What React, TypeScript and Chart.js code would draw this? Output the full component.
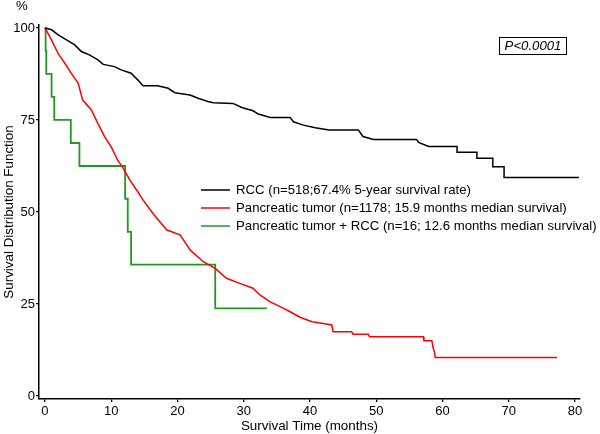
import React, { useEffect, useRef } from "react";
import { Chart, registerables } from "chart.js";

Chart.register(...registerables);

const xTicks = [0, 10, 20, 30, 40, 50, 60, 70, 80];
const yTicks = [0, 25, 50, 75, 100];

const rccTime = [0, 1, 2, 3.5, 4.5, 5.5, 6.7, 8, 8.8, 10.5, 11.5, 13, 14, 14.8, 17, 18.6, 19.6, 21.9, 23.1, 24.6, 25.4, 28.4, 29.7, 31.4, 32.2, 34, 37, 37.5, 39, 40.8, 42.9, 47.3, 48, 49.6, 56.1, 56.4, 57.9, 62.2, 62.2, 65.2, 65.2, 67.6, 67.6, 69.3, 69.3, 80.6];
const rccSurv = [100, 99.5, 98.1, 96.5, 95.4, 93.6, 92.7, 91.3, 90.1, 89.5, 88.6, 87.7, 85.9, 84.3, 84.3, 83.6, 82.4, 81.8, 80.9, 80, 79.7, 79.5, 78.4, 77.5, 76.6, 75.7, 75.7, 74.5, 73.6, 72.9, 72.3, 72.3, 70.5, 69.7, 69.7, 68.9, 67.8, 67.8, 66.2, 66.2, 64.6, 64.6, 62.3, 62.3, 59.4, 59.4];

const panTime = [0, 1, 2, 3, 4, 5, 5.7, 7, 8, 9, 10, 11, 11.8, 12.8, 14, 14.8, 16.3, 18.4, 20.4, 21.9, 23.9, 25.7, 27.4, 29.4, 31.4, 32.5, 34, 35.5, 37, 38.5, 40.3, 42, 43.3, 43.5, 46.3, 46.5, 48.8, 49, 57.1, 57.2, 58.4, 58.6, 58.8, 58.9, 77.3];
const panSurv = [100, 96.7, 93, 90.4, 87.6, 85, 80.4, 77.7, 74, 70.5, 67.7, 64, 61.9, 58.7, 55.5, 53.3, 49.6, 45.1, 43.8, 39.7, 36.5, 34.7, 32, 30.6, 29.3, 27.4, 25.6, 24.3, 22.9, 21.4, 20.2, 19.7, 19.3, 17.5, 17.5, 16.8, 16.8, 16.1, 16.1, 15, 15, 13, 12, 10.5, 10.5];

const bothTime = [0, 0.1, 0.2, 1.0, 1.4, 3.9, 5.2, 12.1, 12.5, 13.0, 25.7, 33.5];
const bothSurv = [100, 93.75, 87.5, 81.25, 75, 68.75, 62.5, 53.6, 44.6, 35.7, 23.8, 23.8];

const seriesLabels = [
  "RCC (n=518;67.4% 5-year survival rate)",
  "Pancreatic tumor (n=1178; 15.9 months median survival)",
  "Pancreatic tumor + RCC (n=16; 12.6 months median survival)",
];
const seriesColors = ["#000000", "#ff0000", "#229922"];
const pText = "P<0.0001";

const FONT = "'Liberation Sans', Arial, sans-serif";

const pts = (t: number[], s: number[]) => t.map((x, i) => ({ x, y: s[i] }));

const extras = {
  id: "extras",
  afterDraw(chart: any) {
    const ctx = chart.ctx as CanvasRenderingContext2D;
    ctx.save();
    ctx.fillStyle = "#000";
    ctx.font = `13.2px ${FONT}`;
    ctx.textAlign = "left";
    ctx.textBaseline = "alphabetic";
    ctx.fillText("%", 16, 10);
    const lx0 = 201, lx1 = 230, tx = 236;
    const ys = [190, 208, 226];
    chart.data.datasets.forEach((ds: any, i: number) => {
      ctx.strokeStyle = ds.borderColor;
      ctx.lineWidth = 1.5;
      ctx.beginPath();
      ctx.moveTo(lx0, ys[i]);
      ctx.lineTo(lx1, ys[i]);
      ctx.stroke();
      ctx.fillStyle = "#000";
      ctx.textBaseline = "middle";
      ctx.fillText(ds.label, tx, ys[i] + 0.5);
    });
    ctx.strokeStyle = "#000";
    ctx.lineWidth = 1;
    ctx.strokeRect(499.5, 37.5, 67, 17);
    ctx.font = `italic 13.2px ${FONT}`;
    ctx.textAlign = "center";
    ctx.textBaseline = "middle";
    ctx.fillText(pText, 533, 46.5);
    ctx.restore();
  },
};

export default function App() {
  const ref = useRef<HTMLCanvasElement>(null);
  useEffect(() => {
    if (!ref.current) return;
    const chart = new Chart(ref.current, {
      type: "line",
      data: {
        datasets: [
          { label: seriesLabels[0], data: pts(rccTime, rccSurv), borderColor: seriesColors[0], borderWidth: 1.5, pointRadius: 0, fill: false, tension: 0 },
          { label: seriesLabels[1], data: pts(panTime, panSurv), borderColor: seriesColors[1], borderWidth: 1.5, pointRadius: 0, fill: false, tension: 0 },
          { label: seriesLabels[2], data: pts(bothTime, bothSurv), borderColor: seriesColors[2], borderWidth: 1.8, stepped: true, pointRadius: 0, fill: false },
        ],
      },
      options: {
        responsive: false,
        animation: false,
        devicePixelRatio: 1,
        layout: { padding: { left: 0, top: 25, right: 20, bottom: 0 } },
        plugins: { legend: { display: false }, tooltip: { enabled: false } },
        scales: {
          x: {
            type: "linear",
            min: -0.9,
            max: 80.76,
            afterBuildTicks: (s: any) => { s.ticks = xTicks.map((v) => ({ value: v })); },
            afterFit: (s: any) => { s.height = 35; },
            grid: { drawOnChartArea: false, drawTicks: true, tickLength: 3, color: "#000", lineWidth: 1.3 },
            border: { display: true, color: "#000", width: 1.5 },
            ticks: { color: "#000", font: { family: FONT, size: 13 }, padding: 2, maxRotation: 0 },
            title: { display: true, text: "Survival Time (months)", color: "#000", font: { family: FONT, size: 13.4 }, padding: 0 },
          },
          y: {
            type: "linear",
            min: -0.8,
            max: 100.8,
            afterBuildTicks: (s: any) => { s.ticks = yTicks.map((v) => ({ value: v })); },
            afterFit: (s: any) => { s.width = 39; },
            grid: { drawOnChartArea: false, drawTicks: true, tickLength: 3, color: "#000", lineWidth: 1.3 },
            border: { display: true, color: "#000", width: 1.5 },
            ticks: { color: "#000", font: { family: FONT, size: 13 }, padding: 1 },
            title: { display: true, text: "Survival Distribution Function", color: "#000", font: { family: FONT, size: 13.4 }, padding: 1 },
          },
        },
      },
      plugins: [extras],
    });
    return () => chart.destroy();
  }, []);
  return (
    <div style={{ position: "absolute", left: 0, top: 0, width: 600, height: 434, background: "#fff" }}>
      <canvas ref={ref} width={600} height={434} />
    </div>
  );
}
